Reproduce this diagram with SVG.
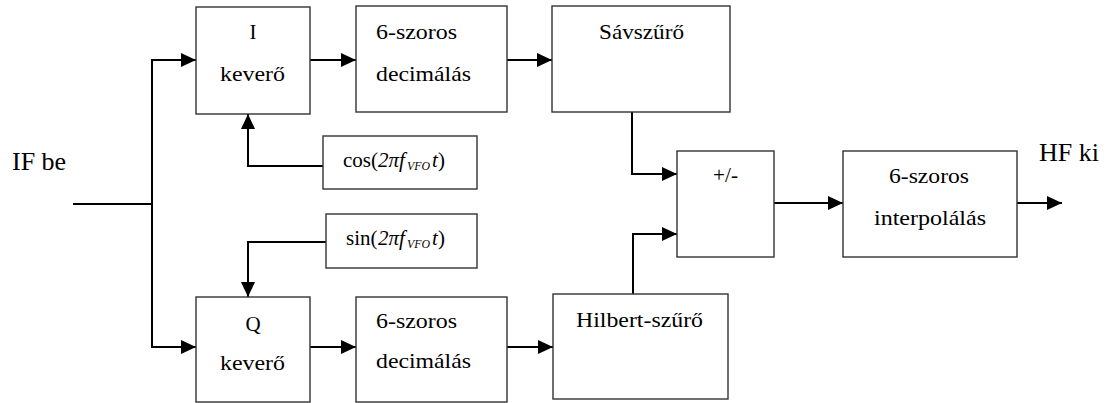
<svg xmlns="http://www.w3.org/2000/svg" width="1108" height="403" viewBox="0 0 1108 403">
<style>
.box{fill:#fff;stroke:#333;stroke-width:1.4}
.t{font-family:"Liberation Serif","Times New Roman","DejaVu Serif",serif;font-size:21px;fill:#000}
.big{font-family:"Liberation Serif","Times New Roman","DejaVu Serif",serif;font-size:26px;fill:#000}
.c{fill:none;stroke:#000;stroke-width:2}
.a{marker-end:url(#arr)}
.i{font-style:italic}
.sub{font-style:italic;font-size:12px}
</style>
<defs>
<marker id="arr" markerUnits="userSpaceOnUse" markerWidth="16" markerHeight="14" refX="15" refY="7" orient="auto">
<path d="M0,0 L15,7 L0,14 z" fill="#000"/>
</marker>
</defs>
<rect width="1108" height="403" fill="#fff"/>
<g id="connectors">
<path class="c" d="M73,204 H152"/>
<path class="c a" d="M152,204 V60 H196"/>
<path class="c a" d="M152,204 V347 H196"/>
<path class="c a" d="M310,60 H356"/>
<path class="c a" d="M507,60 H552"/>
<path class="c a" d="M323,166 H248 V114"/>
<path class="c a" d="M326,242 H248 V297"/>
<path class="c a" d="M310,347 H356"/>
<path class="c a" d="M507,347 H553"/>
<path class="c a" d="M632,112 V174 H677"/>
<path class="c a" d="M633,294 V234 H677"/>
<path class="c a" d="M774,203 H843"/>
<path class="c a" d="M1017,203 H1062"/>
</g>
<g id="in-label"><text class="big" x="12" y="170">IF be</text></g>
<g id="out-label"><text class="big" x="1039" y="161">HF ki</text></g>
<g id="i-mixer">
<rect class="box" x="196" y="7" width="114" height="107"/>
<text class="t" x="253" y="39" text-anchor="middle">I</text>
<text class="t" x="220" y="81" textLength="65" lengthAdjust="spacingAndGlyphs">keverő</text>
</g>
<g id="i-decim">
<rect class="box" x="356" y="6" width="151" height="106"/>
<text class="t" x="376" y="39" textLength="81" lengthAdjust="spacingAndGlyphs">6-szoros</text>
<text class="t" x="376" y="81" textLength="95" lengthAdjust="spacingAndGlyphs">decimálás</text>
</g>
<g id="bandpass">
<rect class="box" x="552" y="6" width="178" height="106"/>
<text class="t" x="599" y="39" textLength="85" lengthAdjust="spacingAndGlyphs">Sávszűrő</text>
</g>
<g id="cos">
<rect class="box" x="323" y="136" width="154" height="53"/>
<text class="t" x="343" y="167">cos(<tspan x="378" class="i">2πf</tspan><tspan x="407" y="170" class="sub" textLength="23" lengthAdjust="spacingAndGlyphs">VFO</tspan><tspan x="432" y="167" class="i">t</tspan><tspan x="438" y="167">)</tspan></text>
</g>
<g id="sin">
<rect class="box" x="326" y="214" width="151" height="54"/>
<text class="t" x="346" y="245">sin(<tspan x="378" class="i">2πf</tspan><tspan x="407" y="248" class="sub" textLength="23" lengthAdjust="spacingAndGlyphs">VFO</tspan><tspan x="432" y="245" class="i">t</tspan><tspan x="438" y="245">)</tspan></text>
</g>
<g id="q-mixer">
<rect class="box" x="196" y="297" width="114" height="105"/>
<text class="t" x="253" y="331" text-anchor="middle">Q</text>
<text class="t" x="220" y="370" textLength="65" lengthAdjust="spacingAndGlyphs">keverő</text>
</g>
<g id="q-decim">
<rect class="box" x="356" y="297" width="151" height="105"/>
<text class="t" x="376" y="328" textLength="81" lengthAdjust="spacingAndGlyphs">6-szoros</text>
<text class="t" x="376" y="368" textLength="95" lengthAdjust="spacingAndGlyphs">decimálás</text>
</g>
<g id="hilbert">
<rect class="box" x="553" y="294" width="175" height="105"/>
<text class="t" x="576" y="327" textLength="127" lengthAdjust="spacingAndGlyphs">Hilbert-szűrő</text>
</g>
<g id="sum">
<rect class="box" x="677" y="151" width="97" height="106"/>
<text class="t" x="713" y="182" textLength="25" lengthAdjust="spacingAndGlyphs">+/-</text>
</g>
<g id="interp">
<rect class="box" x="843" y="151" width="174" height="106"/>
<text class="t" x="889" y="183" textLength="80" lengthAdjust="spacingAndGlyphs">6-szoros</text>
<text class="t" x="874" y="225" textLength="112" lengthAdjust="spacingAndGlyphs">interpolálás</text>
</g>
</svg>
